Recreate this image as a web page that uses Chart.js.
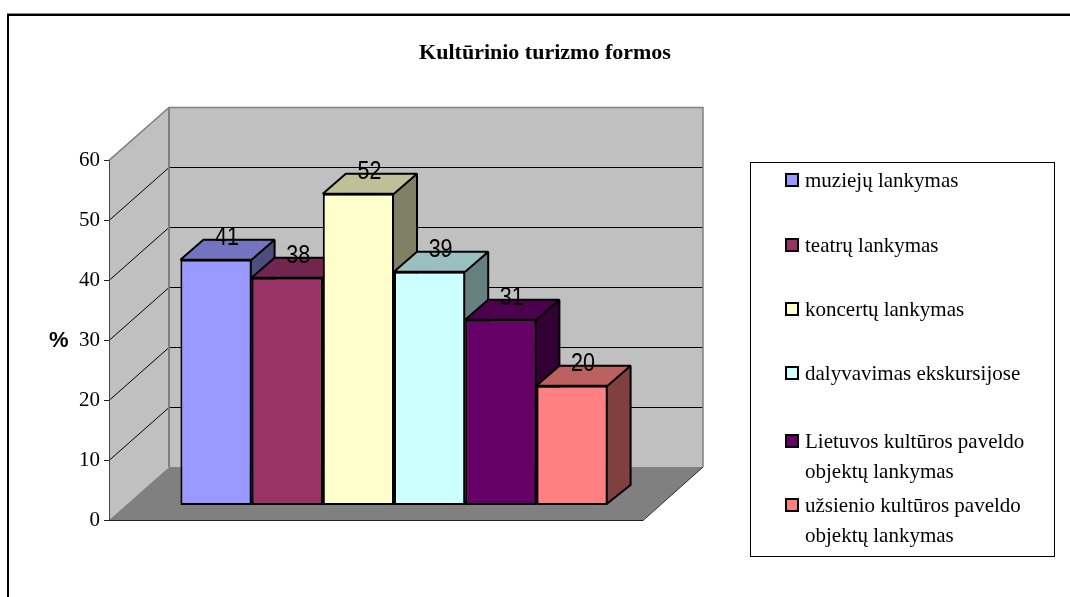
<!DOCTYPE html>
<html>
<head>
<meta charset="utf-8">
<style>
  html, body { margin: 0; padding: 0; background: #fff; overflow: hidden; }
  canvas { display: block; }
</style>
<script src="https://cdn.jsdelivr.net/npm/chart.js@4"></script>
</head>
<body>
<canvas id="chart" width="1070" height="597"></canvas>
<script>
// data
const seriesNames = [
    "muziejų lankymas",
    "teatrų lankymas",
    "koncertų lankymas",
    "dalyvavimas ekskursijose",
    "Lietuvos kultūros paveldo objektų lankymas",
    "užsienio kultūros paveldo objektų lankymas"
];
const seriesValues = [41, 38, 52, 39, 31, 20];
const seriesColors = ["#9999FF", "#993366", "#FFFFCC", "#CCFFFF", "#660066", "#FF8080"];
const legendLines = [
    ["muziejų lankymas"],
    ["teatrų lankymas"],
    ["koncertų lankymas"],
    ["dalyvavimas ekskursijose"],
    ["Lietuvos kultūros paveldo", "objektų lankymas"],
    ["užsienio kultūros paveldo", "objektų lankymas"]
];
const legendRowY = [180, 245, 309, 373, 441, 505];

const SERIF = "'Liberation Serif', serif";
const SANS = "'Liberation Sans', sans-serif";

// 3d look: how far the back wall and the bars are pushed
const WALL_DX = 60, WALL_DY = -53;
const BAR_DX = 23, BAR_DY = -20;
const FRONT_DX = 18, FRONT_DY = -14.5;

function shade(hex, f) {
    const n = parseInt(hex.slice(1), 16);
    const r = Math.round((n >> 16 & 255) * f);
    const g = Math.round((n >> 8 & 255) * f);
    const b = Math.round((n & 255) * f);
    return `rgb(${r},${g},${b})`;
}

function poly(ctx, pts, fill, stroke, lw) {
    ctx.beginPath();
    pts.forEach((p, i) => i ? ctx.lineTo(p[0], p[1]) : ctx.moveTo(p[0], p[1]));
    ctx.closePath();
    if (fill) { ctx.fillStyle = fill; ctx.fill(); }
    if (stroke) { ctx.strokeStyle = stroke; ctx.lineWidth = lw; ctx.lineJoin = "bevel"; ctx.stroke(); }
}

// outer frame, only top and left are inside the picture
const framePlugin = {
    id: "frame",
    beforeDraw(chart) {
        const ctx = chart.ctx;
        ctx.save();
        ctx.fillStyle = "#fff";
        ctx.fillRect(0, 0, chart.width, chart.height);
        ctx.fillStyle = "#000";
        ctx.fillRect(7, 14, chart.width, 2);
        ctx.fillRect(7, 14, 2, chart.height);
        ctx.fillStyle = "#888";
        ctx.fillRect(7, 13, chart.width, 1);
        ctx.restore();
    }
};

// walls, floor, side and top faces; the fronts are the real bar elements
const depthPlugin = {
    id: "depth",
    beforeDatasetsDraw(chart) {
        const ctx = chart.ctx;
        const a = chart.chartArea;
        const y = chart.scales.y;
        const x0 = a.left, x1 = a.right, top = a.top, bot = a.bottom;
        const dx = WALL_DX, dy = WALL_DY;

        ctx.save();
        poly(ctx, [[x0 + dx, top + dy], [x1 + dx, top + dy], [x1 + dx, bot + dy], [x0 + dx, bot + dy]], "#C0C0C0");
        poly(ctx, [[x0, top], [x0 + dx, top + dy], [x0 + dx, bot + dy], [x0, bot]], "#C0C0C0");
        poly(ctx, [[x0, bot], [x1, bot], [x1 + dx, bot + dy], [x0 + dx, bot + dy]], "#808080");

        // gridlines over both walls
        ctx.strokeStyle = "#000";
        ctx.lineWidth = 1;
        y.ticks.forEach(t => {
            if (t.value === 0 || t.value === 60) return;
            const py = Math.round(y.getPixelForValue(t.value)) + 0.5;
            ctx.beginPath();
            ctx.moveTo(x0, py);
            ctx.lineTo(x0 + dx, py + dy);
            ctx.lineTo(x1 + dx, py + dy);
            ctx.stroke();
        });

        // wall edges
        ctx.strokeStyle = "#808080";
        ctx.lineWidth = 2;
        ctx.beginPath();
        ctx.moveTo(x0 + dx, bot + dy);
        ctx.lineTo(x0 + dx, top + dy);
        ctx.stroke();
        ctx.lineWidth = 1.5;
        ctx.beginPath();
        ctx.moveTo(x0, top);
        ctx.lineTo(x0 + dx, top + dy);
        ctx.lineTo(x1 + dx, top + dy);
        ctx.lineTo(x1 + dx, bot + dy);
        ctx.stroke();

        // floor edge
        ctx.strokeStyle = "#222";
        ctx.lineWidth = 1;
        ctx.beginPath();
        ctx.moveTo(x0, bot + 0.5);
        ctx.lineTo(x1, bot + 0.5);
        ctx.lineTo(x1 + dx, bot + dy);
        ctx.stroke();
        ctx.strokeStyle = "#444";
        ctx.beginPath();
        ctx.moveTo(x0 + 0.5, top);
        ctx.lineTo(x0 + 0.5, bot);
        ctx.stroke();

        // side and top faces, left to right so later bars cover earlier sides
        ctx.translate(FRONT_DX, FRONT_DY);
        chart.data.datasets.forEach((ds, i) => {
            const bar = chart.getDatasetMeta(i).data[0];
            const p = bar.getProps(["x", "y", "base", "width"], true);
            const l = p.x - p.width / 2, r = p.x + p.width / 2;
            poly(ctx, [[r - 1, p.y], [r + BAR_DX, p.y + BAR_DY], [r + BAR_DX, p.base + BAR_DY], [r - 1, p.base - 1]], shade(seriesColors[i], 0.5), "#000", 2);
            poly(ctx, [[l, p.y], [l + BAR_DX, p.y + BAR_DY], [r + BAR_DX, p.y + BAR_DY], [r, p.y]], shade(seriesColors[i], 0.75), "#000", 2);
        });
        // the fronts get drawn by chart.js inside this same shift
    },
    afterDatasetsDraw(chart) {
        const ctx = chart.ctx;
        ctx.restore();

        // value labels
        ctx.save();
        ctx.fillStyle = "#000";
        ctx.font = "25px " + SANS;
        ctx.textAlign = "center";
        ctx.textBaseline = "middle";
        chart.data.datasets.forEach((ds, i) => {
            const bar = chart.getDatasetMeta(i).data[0];
            const p = bar.getProps(["x", "y"], true);
            ctx.save();
            ctx.translate(p.x + FRONT_DX + 11, p.y + FRONT_DY - 22);
            ctx.scale(0.86, 1);
            ctx.fillText(String(ds.data[0]), 0, 0);
            ctx.restore();
        });

        // the % sits level, so it can't be the rotated axis title
        ctx.font = "bold 22px " + SANS;
        ctx.textAlign = "left";
        ctx.fillText("%", 49, 341);
        ctx.restore();
    }
};

// legend takes the right side of the layout, rows are uneven like the original
const legendBoxPlugin = {
    id: "legendBox",
    beforeInit(chart) {
        const item = {
            position: "right",
            weight: 1,
            fullSize: false,
            options: {},
            isHorizontal() { return false; },
            update() {
                this.width = 427;
                return { w: this.width, h: 0 };
            },
            draw() {
                const ctx = chart.ctx;
                ctx.save();
                ctx.strokeStyle = "#000";
                ctx.lineWidth = 1;
                ctx.strokeRect(750.5, 162.5, 304, 394);
                ctx.font = "21px " + SERIF;
                ctx.textBaseline = "middle";
                ctx.textAlign = "left";
                legendLines.forEach((lines, i) => {
                    const rowY = legendRowY[i];
                    ctx.fillStyle = seriesColors[i];
                    ctx.fillRect(785, rowY - 7, 14, 14);
                    ctx.strokeStyle = "#000";
                    ctx.lineWidth = 2;
                    ctx.strokeRect(786, rowY - 6, 12, 12);
                    ctx.fillStyle = "#000";
                    lines.forEach((line, j) => ctx.fillText(line, 805, rowY + 1 + j * 30));
                });
                ctx.restore();
            }
        };
        Chart.layouts.addBox(chart, item);
    }
};

new Chart(document.getElementById("chart"), {
    type: "bar",
    data: {
        labels: [""],
        datasets: seriesNames.map((name, i) => ({
            label: name,
            data: [seriesValues[i]],
            backgroundColor: seriesColors[i],
            borderColor: "#000",
            borderWidth: 2,
            borderSkipped: false,
            barPercentage: 1,
            categoryPercentage: 0.8
        }))
    },
    options: {
        responsive: false,
        animation: false,
        layout: { padding: { left: 20, right: 0, top: 0, bottom: 77 } },
        plugins: {
            legend: { display: false },
            tooltip: { enabled: false },
            title: {
                display: true,
                text: "Kultūrinio turizmo formos",
                font: { family: SERIF, size: 22, weight: "bold" },
                color: "#000",
                padding: { top: 40, bottom: 94 }
            }
        },
        scales: {
            x: { display: false },
            y: {
                min: 0,
                max: 60,
                afterFit(scale) { scale.width = 89; },
                ticks: {
                    stepSize: 10,
                    color: "#000",
                    font: { family: SERIF, size: 21 },
                    padding: 4
                },
                grid: { drawOnChartArea: false, tickLength: 5, color: "#222" },
                border: { display: true, color: "#444" }
            }
        }
    },
    plugins: [framePlugin, depthPlugin, legendBoxPlugin]
});
</script>
</body>
</html>
